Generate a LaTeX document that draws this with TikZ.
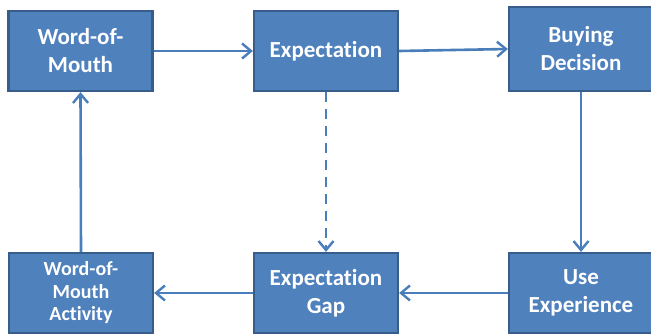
\documentclass[tikz,border=0pt]{standalone}
\usepackage{fontspec}
\setmainfont{Carlito}[Ligatures=NoCommon]
\usetikzlibrary{arrows.meta}
\definecolor{boxfill}{HTML}{4F81BD}
\definecolor{boxline}{HTML}{385D8A}
\definecolor{arrowc}{HTML}{4A7EBB}
\tikzset{
  x=1pt,y=-1pt,
  flowbox/.style={draw=boxline, line width=2.2pt, fill=boxfill, text=white,
    font=\fontsize{23}{28}\selectfont\bfseries, align=center,
    minimum width=144pt, minimum height=80pt, inner sep=0pt},
  smallbox/.style={flowbox, font=\fontsize{20}{22.5}\selectfont\bfseries},
  flowarrow/.style={draw=arrowc, line width=2.6pt,
    -{Straight Barb[length=9pt,width=15pt,line width=2.4pt]}},
}
\begin{document}
\begin{tikzpicture}
\useasboundingbox (0,0) rectangle (651,334);
\node[flowbox] (wom) at (80.5,51) {Word-of-\\Mouth};
\node[flowbox] (exp) at (326,51) {Expectation};
\node[flowbox, minimum height=84pt] (buy) at (581,49) {Buying\\Decision};
\node[flowbox] (use) at (581,293) {Use\\Experience};
\node[flowbox] (gap) at (326,293) {Expectation\\Gap};
\node[smallbox] (act) at (81,293) {Word-of-\\Mouth\\Activity};
\draw[flowarrow] (wom.east) -- (exp.west);
\draw[flowarrow] (exp.east) -- (buy.west);
\draw[flowarrow] (buy.south) -- (use.north);
\draw[flowarrow] (use.west) -- (gap.east);
\draw[flowarrow] (gap.west) -- (act.east);
\draw[flowarrow] (act.north) -- (wom.south);
\draw[flowarrow, dash pattern=on 10pt off 7pt] (exp.south) -- (gap.north);
\end{tikzpicture}
\end{document}
